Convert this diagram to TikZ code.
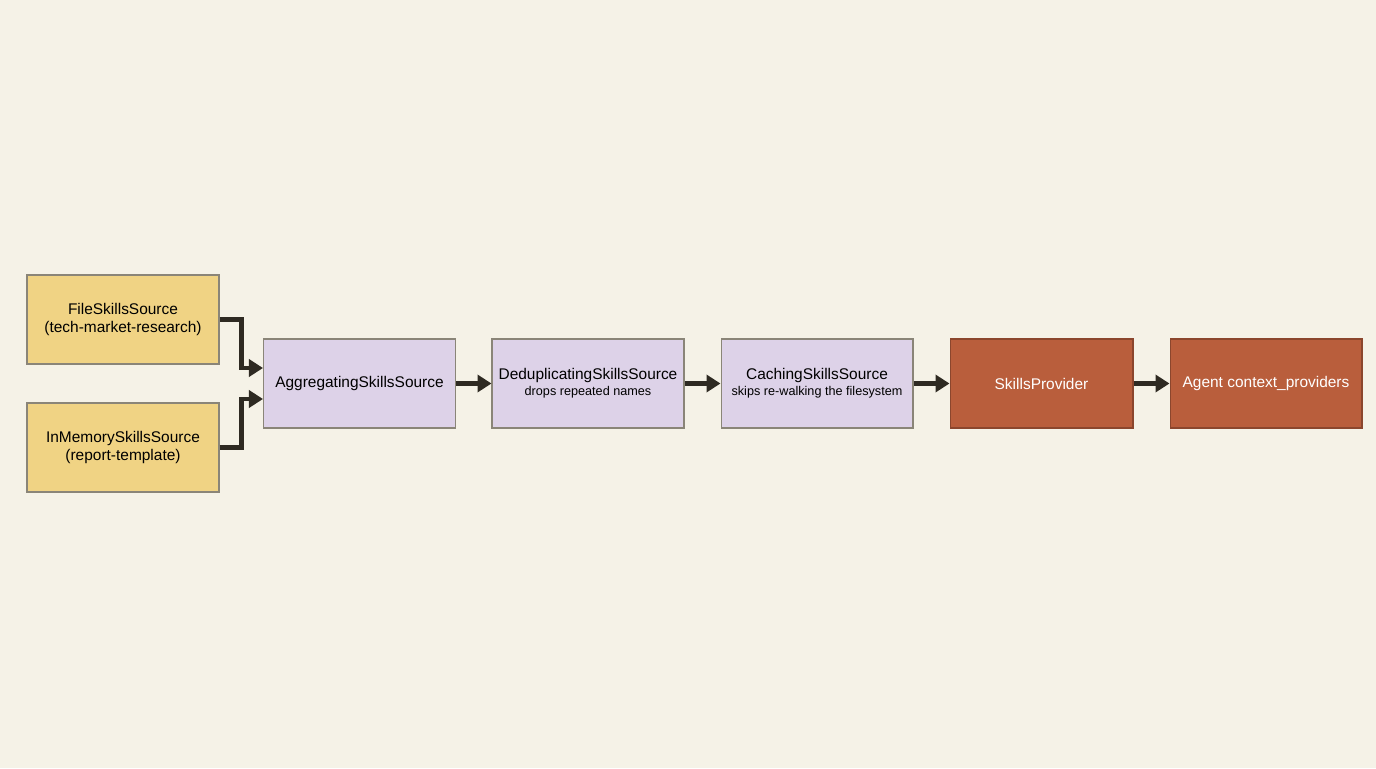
\documentclass[tikz,border=0pt]{standalone}
\usepackage{fontspec}
\setmainfont{Liberation Sans}
\usepackage{tikz}
\usetikzlibrary{arrows.meta, calc}
\definecolor{paper}{HTML}{F5F2E7}
\definecolor{srcYellow}{HTML}{F0D384}
\definecolor{pipeLilac}{HTML}{DDD2E8}
\definecolor{provRust}{HTML}{B95E3C}
\definecolor{edgeGray}{HTML}{8A8578}
\definecolor{flowInk}{HTML}{2E2A22}

\begin{document}
\begin{tikzpicture}[x=0.02cm, y=-0.02cm, every node/.style={inner sep=.25ex, align=center},
	box/.style={draw=edgeGray, line width=0.6pt, minimum width=3.84cm, minimum height=1.78cm, font=\fontsize{8.8}{10.5}\selectfont},
	source/.style={box, fill=srcYellow},
	stage/.style={box, fill=pipeLilac},
	provider/.style={box, fill=provRust, text=white, draw=provRust!75!black},
	flow/.style={flowInk, line width=2.5pt, -{Triangle[length=0.28cm, width=0.34cm]}}]
	\fill[paper] (0, 0) rectangle (1376, 768);
	\useasboundingbox (0, 0) rectangle (1376, 768);
	\node[source] (file) at (123, 319.5) {FileSkillsSource\\(tech-market-research)};
	\node[source] (mem) at (123, 447.5) {InMemorySkillsSource\\(report-template)};
	\node[stage] (agg) at (359.5, 383.5) {AggregatingSkillsSource};
	\node[stage] (dedup) at (588, 383.5) {DeduplicatingSkillsSource\\[-0.3ex]{\fontsize{7.2}{8}\selectfont drops repeated names}};
	\node[stage] (cache) at (817, 383.5) {CachingSkillsSource\\[-0.3ex]{\fontsize{7.2}{8}\selectfont skips re-walking the filesystem}};
	\node[provider, minimum width=3.66cm] (prov) at (1041.5, 383.5) {SkillsProvider};
	\node[provider] (agent) at (1266, 383.5) {Agent context\_providers};
	\draw[flow] (file.east) -- ++(22, 0) |- ([yshift=0.31cm]agg.west);
	\draw[flow] (mem.east) -- ++(22, 0) |- ([yshift=-0.31cm]agg.west);
	\draw[flow] (agg) -- (dedup);
	\draw[flow] (dedup) -- (cache);
	\draw[flow] (cache) -- (prov);
	\draw[flow] (prov) -- (agent);
\end{tikzpicture}
\end{document}
